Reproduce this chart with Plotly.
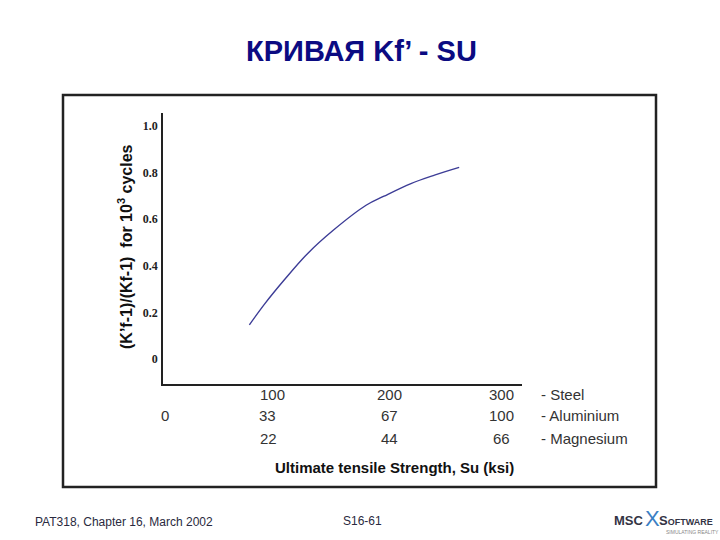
"""
Kf' - Su curve, rebuilt in plotly
"""

import plotly.graph_objects as go

# data
su_steel = [75, 89, 106, 127, 150, 179, 195, 219, 240, 262]
kf_ratio = [0.147, 0.239, 0.339, 0.453, 0.553, 0.659, 0.698, 0.752, 0.788, 0.821]

y_ticks = [0, 0.2, 0.4, 0.6, 0.8, 1.0]
y_ticktext = ["0", "0.2", "0.4", "0.6", "0.8", "1.0"]

steel_ticks = [100, 200, 300]
steel_labels = ["100", "200", "300"]
alu_ticks = [0, 100, 200, 300]
alu_labels = ["0", "33", "67", "100"]
mg_ticks = [100, 200, 300]
mg_labels = ["22", "44", "66"]
materials = ["- Steel", "- Aluminium", "- Magnesium"]

W, H = 720, 540
L, R, T, B = 163, 522, 113, 384   # plot area in pixels


def px(x):
    return (x - L) / (R - L)


def py(y):
    return (B - y) / (B - T)


def note(x, y, text, font, xref='paper', xanchor='center', **kw):
    return dict(x=x, y=py(y), xref=xref, yref='paper', text=text, showarrow=False,
                xanchor=xanchor, yanchor='middle', font=font, **kw)


fig = go.Figure()

fig.add_trace(go.Scatter(
    x=su_steel,
    y=kf_ratio,
    mode='lines',
    line=dict(color='#3c3c96', width=1.4, shape='spline'),
    showlegend=False,
    hoverinfo='skip'
))

num_font = dict(family='Liberation Sans, Arial', size=15, color='#333333')

annotations = []
# the three rows of x labels
for x, t in zip(steel_ticks, steel_labels):
    annotations.append(note(x, 395, t, num_font, xref='x', xshift=-5 if x == 100 else 0))
for x, t in zip(alu_ticks, alu_labels):
    annotations.append(note(x, 415, t, num_font, xref='x', xshift=-10 if x == 100 else 0))
for x, t in zip(mg_ticks, mg_labels):
    annotations.append(note(x, 438, t, num_font, xref='x', xshift=-9 if x == 100 else 0))

for yy, t in zip([395, 415, 438], materials):
    annotations.append(note(px(539), yy, t, num_font, xanchor='left'))

# axis titles
annotations.append(note(px(394), 467, 'Ultimate tensile Strength, Su (ksi)',
                        dict(family='Liberation Sans, Arial', size=15, color='#111111', weight='bold')))
annotations.append(note(px(125), 247, '(K’f-1)/(Kf-1)  for 10<sup>3</sup> cycles',
                        dict(family='Liberation Sans, Arial', size=16, color='#111111', weight='bold'),
                        textangle=-90))

# title and footer
annotations.append(note(px(361), 51, 'КРИВАЯ Kf’ - SU',
                        dict(family='Liberation Sans, Arial', size=29, color='#0b0b82', weight='bold')))
annotations.append(note(px(33), 522, 'PAT318, Chapter 16, March 2002',
                        dict(family='Liberation Sans, Arial', size=12, color='#2a2a40'),
                        xanchor='left'))
annotations.append(note(px(362), 521, 'S16-61',
                        dict(family='Liberation Sans, Arial', size=12, color='#2a2a40')))
# MSC Software logo, roughly
logo_font = dict(family='Liberation Sans Narrow, Liberation Sans, Arial', size=13, color='#333344')
annotations.append(note(px(612), 520, '<b>MSC</b>', logo_font, xanchor='left'))
annotations.append(note(px(643), 518, 'X',
                        dict(family='Liberation Sans, Arial', size=22, color='#3b7fc4'),
                        xanchor='left'))
annotations.append(note(px(657), 520, '<b>S<span style="font-size:9px">OFTWARE</span></b>',
                        logo_font, xanchor='left'))
annotations.append(note(px(664), 532, 'SIMULATING REALITY',
                        dict(family='Liberation Sans, Arial', size=5, color='#888888'),
                        xanchor='left'))

fig.update_layout(
    width=W,
    height=H,
    margin=dict(l=L, r=W - R, t=T, b=H - B, pad=0),
    paper_bgcolor='white',
    plot_bgcolor='white',
    xaxis=dict(
        range=[-2, 318],
        showgrid=False, zeroline=False,
        showline=True, linecolor='#222222', linewidth=1.5,
        showticklabels=False, ticks=''
    ),
    yaxis=dict(
        range=[-0.106, 1.054],
        showgrid=False, zeroline=False,
        showline=True, linecolor='#222222', linewidth=1.5,
        tickvals=y_ticks, ticktext=y_ticktext, ticks='',
        ticklabelstandoff=1,
        tickfont=dict(family='Liberation Serif, Times New Roman', size=12,
                      color='#222222', weight='bold')
    ),
    annotations=annotations,
    shapes=[dict(
        type='rect', xref='paper', yref='paper',
        x0=px(63), x1=px(656), y0=py(487), y1=py(95),
        line=dict(color='#222222', width=2.5)
    )]
)

fig.write_html("out.html", config={'displayModeBar': False},
               post_script="document.body.style.margin='0px';")
